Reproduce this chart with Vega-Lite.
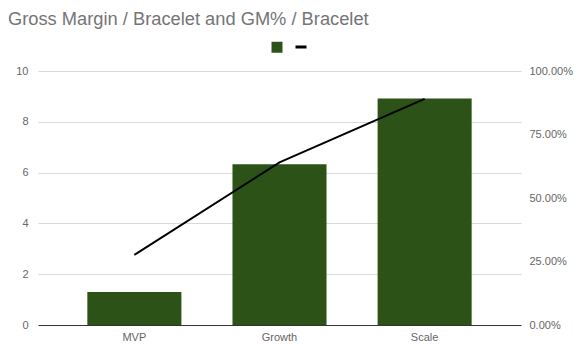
{
  "$schema": "https://vega.github.io/schema/vega-lite/v6.json",
  "autosize": "none",
  "width": 483,
  "height": 254,
  "padding": {"left": 38, "top": 71, "right": 53, "bottom": 20},
  "background": "white",
  "config": {
    "font": "Liberation Sans",
    "view": {"stroke": null},
    "axis": {"labelColor": "#666666", "labelFontSize": 11, "labelFont": "Liberation Sans", "titleFontSize": 11}
  },
  "title": {
    "text": "Gross Margin / Bracelet and GM% / Bracelet",
    "anchor": "start",
    "frame": "group",
    "orient": "top",
    "fontSize": 18.3,
    "fontWeight": "normal",
    "color": "#757575",
    "font": "Liberation Sans",
    "dx": -30,
    "offset": 13
  },
  "data": {
    "values": [
      {"stage": "MVP", "gm": 1.3, "gmpct": 0.276},
      {"stage": "Growth", "gm": 6.33, "gmpct": 0.64},
      {"stage": "Scale", "gm": 8.92, "gmpct": 0.89}
    ]
  },
  "encoding": {
    "x": {
      "field": "stage",
      "type": "nominal",
      "sort": null,
      "title": null,
      "scale": {"paddingInner": 0.352, "paddingOuter": 0.34},
      "axis": {"labelAngle": 0, "ticks": false, "domain": true, "domainColor": "#333333", "domainWidth": 1, "labelPadding": 6, "grid": false}
    }
  },
  "layer": [
    {
      "mark": {"type": "bar", "color": "#2c5218", "cornerRadius": 0},
      "encoding": {
        "y": {
          "field": "gm",
          "type": "quantitative",
          "title": null,
          "scale": {"domain": [0, 10], "nice": false},
          "axis": {"values": [0, 2, 4, 6, 8, 10], "ticks": false, "domain": false, "grid": true, "gridColor": "#d9d9d9", "labelPadding": 10}
        },
        "color": {
          "datum": "Gross Margin / Bracelet",
          "type": "nominal",
          "scale": {"domain": ["Gross Margin / Bracelet", "GM% / Bracelet"], "range": ["#2c5218", "#000000"]},
          "legend": {
            "orient": "none",
            "legendX": 234,
            "legendY": -29,
            "direction": "horizontal",
            "title": null,
            "labelExpr": "''",
            "labelOffset": 0,
            "columnPadding": 6,
            "symbolSize": 121,
            "encode": {
              "symbols": {
                "update": {
                  "shape": {"signal": "datum.value === 'GM% / Bracelet' ? 'stroke' : 'square'"},
                  "strokeWidth": {"signal": "datum.value === 'GM% / Bracelet' ? 3 : 0"},
                  "stroke": {"signal": "datum.value === 'GM% / Bracelet' ? '#000000' : '#2c5218'"},
                  "fill": {"signal": "datum.value === 'GM% / Bracelet' ? '#000000' : '#2c5218'"},
                  "opacity": {"value": 1}
                }
              }
            }
          }
        }
      }
    },
    {
      "mark": {"type": "line", "color": "#000000", "strokeWidth": 2},
      "encoding": {
        "y": {
          "field": "gmpct",
          "type": "quantitative",
          "title": null,
          "scale": {"domain": [0, 1], "nice": false},
          "axis": {"orient": "right", "values": [0, 0.25, 0.5, 0.75, 1], "format": ".2%", "ticks": false, "domain": false, "grid": false, "labelPadding": 8}
        },
        "color": {"datum": "GM% / Bracelet", "type": "nominal"}
      }
    }
  ],
  "resolve": {"scale": {"y": "independent"}}
}
